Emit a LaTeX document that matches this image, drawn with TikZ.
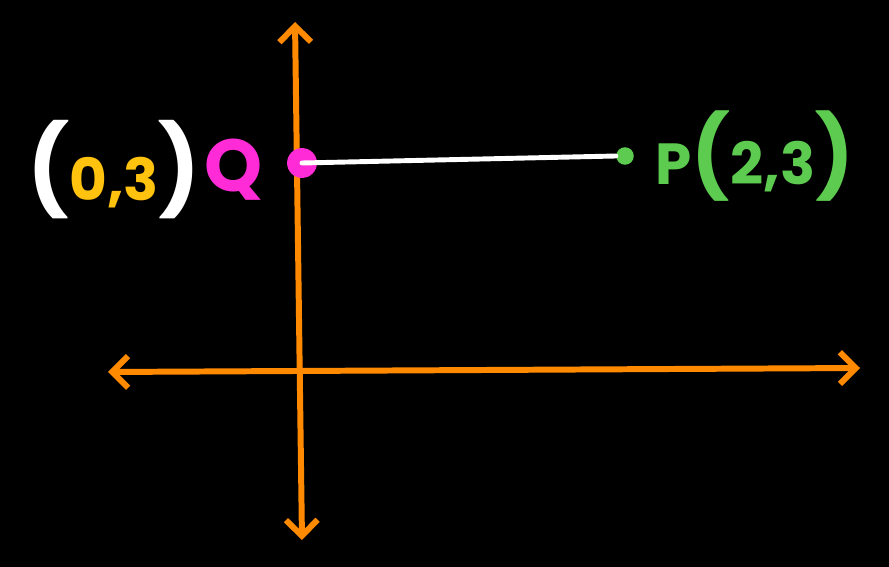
\documentclass[tikz,border=0pt]{standalone}
\usepackage{fontspec}
\setmainfont{Poppins}
\usetikzlibrary{arrows.meta,positioning}
\definecolor{axisorange}{HTML}{FF8A00}
\definecolor{qpink}{HTML}{FF2BD6}
\definecolor{pgreen}{HTML}{5CCB4F}
\definecolor{numyellow}{HTML}{FFC20E}
\begin{document}
\begin{tikzpicture}
    [x=0.02cm, y=-0.02cm,
    axis/.style={draw=axisorange, line width=3.4pt, line cap=round,
        {Straight Barb[length=9pt,width=18pt,line width=3.4pt]}-{Straight Barb[length=9pt,width=18pt,line width=3.4pt]}},
    segment/.style={draw=white, line width=2.8pt, line cap=round},
    dot/.style={circle, inner sep=0pt, minimum size=#1},
    label/.style={inner sep=0pt, font=\bfseries\fontsize{33}{40}\selectfont}]
        %% background
        \fill[black] (0,0) rectangle (889,567);
        \useasboundingbox (0,0) rectangle (889,567);
        %% axes
        \coordinate (top) at (295,22);
        \coordinate (bottom) at (302,540);
        \coordinate (left) at (108,372);
        \coordinate (right) at (860,368);
        \draw[axis] (bottom) -- (top);
        \draw[axis] (left) -- (right);
        %% points
        \node[dot=17pt, fill=qpink] (Q) at (302,163) {};
        \node[dot=10pt, fill=pgreen] (P) at (625,156) {};
        \draw[segment] (Q.center) -- (P.west);
        %% labels
        \node[label, text=qpink, font=\bfseries\fontsize{42}{48}\selectfont] (Qlab) at (234,170) {Q};
        \node[label, left=2pt of Qlab] (Qcoord)
            {\textcolor{white}{\fontsize{50}{56}\selectfont(}\textcolor{numyellow}{0,3}\textcolor{white}{\fontsize{50}{56}\selectfont)}};
        \node[label, text=pgreen, right=12pt of P] (Plab)
            {P{\fontsize{46}{54}\selectfont(}2,3{\fontsize{46}{54}\selectfont)}};
    \end{tikzpicture}
\end{document}
